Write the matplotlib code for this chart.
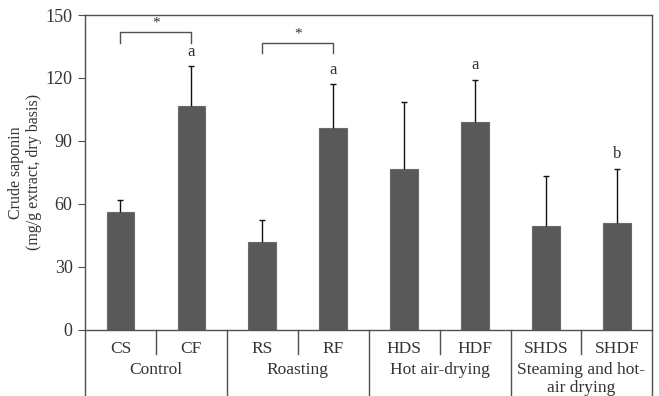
#!/usr/bin/env python3

import matplotlib
matplotlib.use('Agg')
import matplotlib.pyplot as plt

samples = ['CS', 'CF', 'RS', 'RF', 'HDS', 'HDF', 'SHDS', 'SHDF']
saponin = [56.0, 106.6, 41.7, 96.1, 76.4, 99.1, 49.3, 50.9]
err_top = [62.0, 125.5, 52.1, 117.0, 108.7, 119.2, 73.3, 76.7]
letters = ['', 'a', '', 'a', '', 'a', '', 'b']
groups = ['Control', 'Roasting', 'Hot air-drying', 'Steaming and hot-\nair drying']
brackets = [(0, 1, 141.8, 136.5), (2, 3, 136.8, 131.7)]

plt.rcParams['font.family'] = ['Liberation Serif', 'DejaVu Serif']
plt.rcParams['font.size'] = 11
txt = '#333333'
line = '#505050'

fig = plt.figure(figsize=(6.59, 3.96), dpi=100)
ax = fig.add_axes([85 / 659, (396 - 329.7) / 396, 567.4 / 659, 314.7 / 396])

x = list(range(len(samples)))
yerr = [[0] * len(saponin), [e - v for e, v in zip(err_top, saponin)]]
ax.bar(x, saponin, width=0.39, color='#595959', edgecolor='#6a6a6a', linewidth=0.8, zorder=2)
eb = ax.errorbar(x, saponin, yerr=yerr, fmt='none', ecolor='#111111', elinewidth=1.0,
                 capsize=2.5, capthick=1.0, zorder=3)
eb[1][0].set_visible(False)  # only the upper cap

for xi, e, l in zip(x, err_top, letters):
	if l:
		ax.text(xi, e + 3, l, ha='center', va='bottom', color=txt, fontsize=12)

# significance brackets
for a, b, top, leg in brackets:
	ax.plot([a, a, b, b], [leg, top, top, leg], color=line, linewidth=1.0, zorder=3)
	ax.text((a + b) / 2, top + 1.2, '*', ha='center', va='bottom', color=txt, fontsize=11)

ax.set_xlim(-0.5, 7.5)
ax.set_ylim(0, 150)
ax.set_yticks(range(0, 151, 30))
ax.tick_params(axis='y', length=5, width=0.8, color=line, labelcolor=txt, labelsize=13, pad=4)
ax.set_xticks(x, samples)
ax.tick_params(axis='x', length=0, labelcolor=txt, labelsize=12.5, pad=8)
for s in ax.spines.values():
	s.set_color(line)
	s.set_linewidth(1.0)

ax.set_ylabel('Crude saponin\n(mg/g extract, dry basis)', color=txt, fontsize=11.5, linespacing=1.2)
ax.yaxis.set_label_coords(-0.075, 0.5)

# category table below the axis
trans = ax.get_xaxis_transform()
h = 314.7
for xs in [0.5, 2.5, 4.5, 6.5]:
	ax.plot([xs, xs], [0, -24.3 / h], color=line, linewidth=1.0, transform=trans, clip_on=False)
for xs in [-0.5, 1.5, 3.5, 5.5, 7.5]:
	ax.plot([xs, xs], [0, -67 / h], color=line, linewidth=1.0, transform=trans, clip_on=False)
for i, g in enumerate(groups):
	ax.text(2 * i + 0.5, -32 / h, g, ha='center', va='top', color=txt, fontsize=12.5,
	        linespacing=1.15, transform=trans)

plt.savefig('out.png', dpi=100)
plt.close()
